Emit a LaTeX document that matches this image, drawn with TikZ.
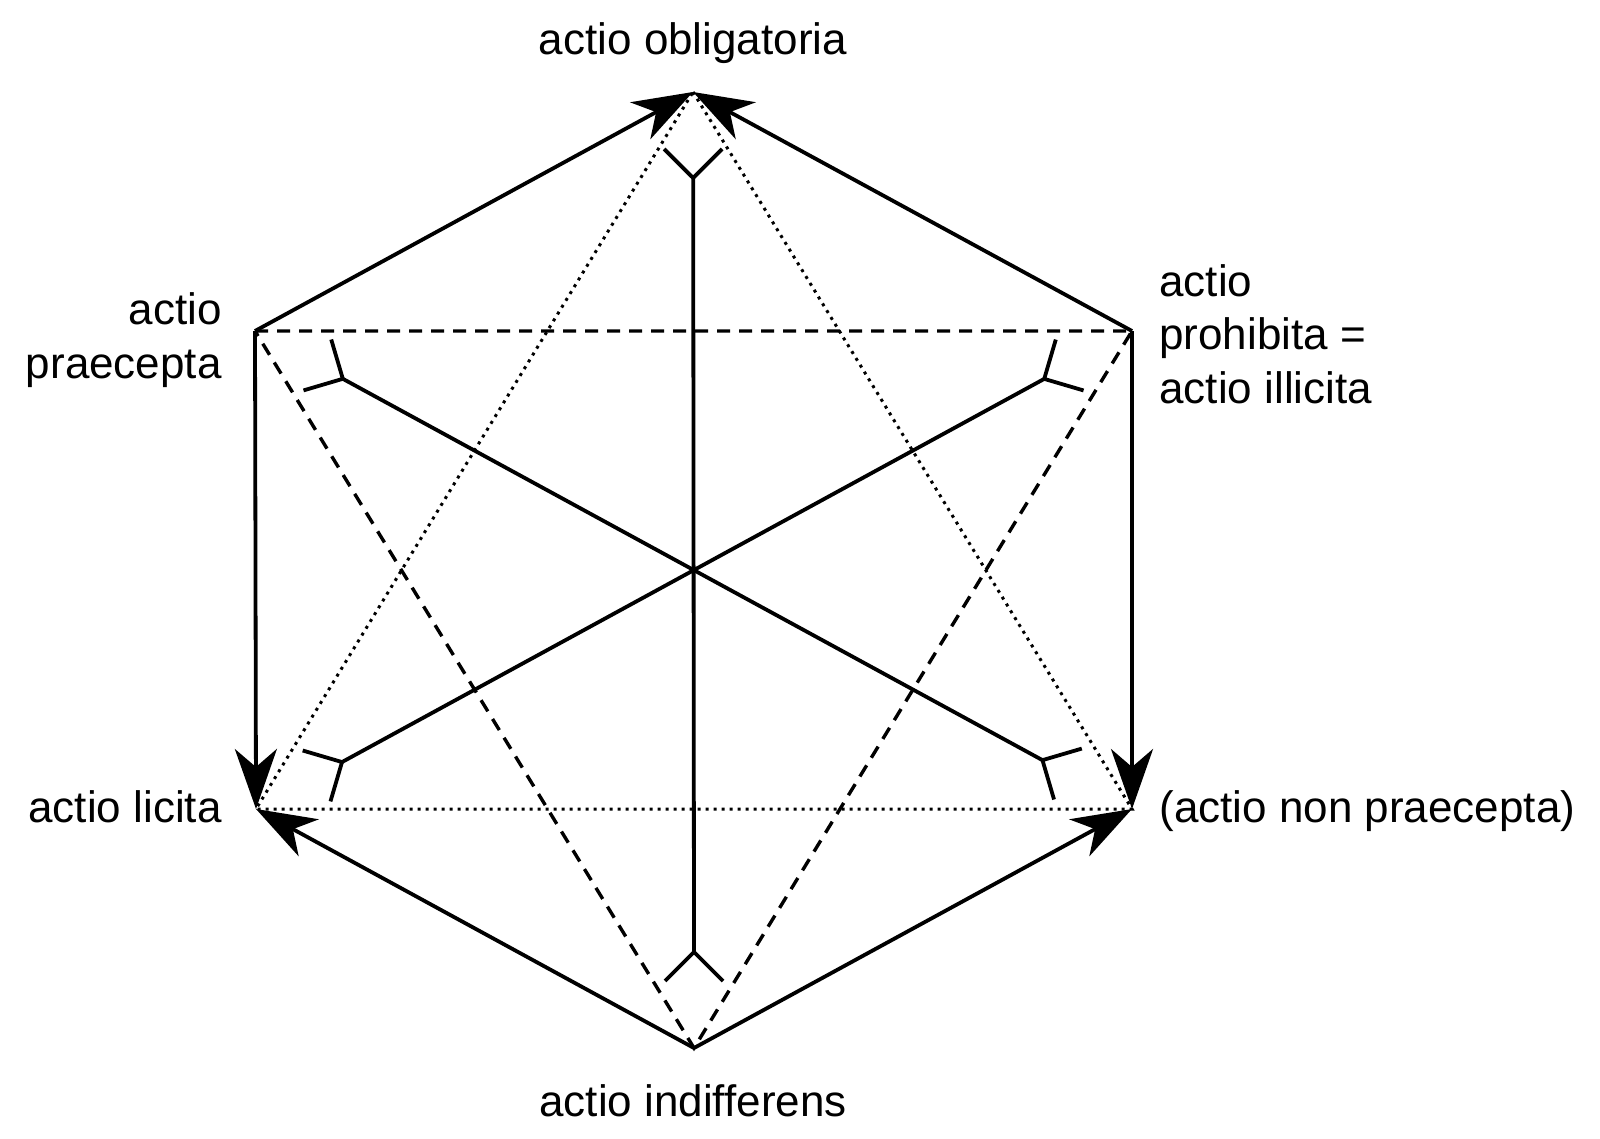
\documentclass[tikz,border=0pt]{standalone}
\usepackage{fontspec}
\setmainfont{Liberation Sans}
\usetikzlibrary{arrows.meta,calc}
\begin{document}
\begin{tikzpicture}[x=0.5pt,y=-0.5pt,
 edge/.style={line width=1.9pt, -{Stealth[length=30pt,width=21pt,inset=9pt]}},
 dsh/.style={line width=1.7pt, dash pattern=on 6.5pt off 4.5pt},
 dtt/.style={line width=1.5pt, dash pattern=on 1.5pt off 2.5pt},
 contra/.style={line width=1.9pt},
 lbl/.style={font=\fontsize{22}{26.75}\selectfont, inner sep=0pt}]
\useasboundingbox (0,0) rectangle (1600,1139);
% vertices
\coordinate (T) at (693,92);
\coordinate (UL) at (255,331);
\coordinate (UR) at (1132,331);
\coordinate (LL) at (256,809);
\coordinate (LR) at (1132,809);
\coordinate (B) at (694,1048);
\coordinate (C) at (694,570);
% labels
\node[lbl, anchor=base] (lo) at (693,55) {actio obligatoria};
\node[lbl, anchor=base east, align=right] (lp) at (222,378) {actio\\praecepta};
\node[lbl, anchor=base west, align=left] (lh) at (1159,403) {actio\\prohibita =\\actio illicita};
\node[lbl, anchor=base east] (ll) at (222,822) {actio licita};
\node[lbl, anchor=base west] (ln) at (1159,822) {(actio non praecepta)};
\node[lbl, anchor=base] (li) at (693,1116) {actio indifferens};
% fork points
\coordinate (fT) at ($(T)!43pt!(C)$);
\coordinate (fB) at ($(B)!48pt!(C)$);
\coordinate (fUL) at ($(UL)!50pt!(C)$);
\coordinate (fUR) at ($(UR)!50pt!(C)$);
\coordinate (fLL) at ($(LL)!49pt!(C)$);
\coordinate (fLR) at ($(LR)!51pt!(C)$);
% dashed triangle
\draw[dsh] (UL) -- (UR) -- (B) -- cycle;
% dotted triangle
\draw[dtt] (T) -- (LR) -- (LL) -- cycle;
% contradiction lines
\draw[contra] (fT) -- (fB);
\draw[contra] (fUL) -- (fLR);
\draw[contra] (fUR) -- (fLL);
\foreach \f/\v in {fT/T, fB/B, fUL/UL, fUR/UR, fLL/LL, fLR/LR}{
  \draw[contra] ($(\f)!20.5pt!45:(\v)$) -- (\f) -- ($(\f)!20.5pt!-45:(\v)$);
}
% hexagon edges with arrows
\draw[edge] (UL) -- (T);
\draw[edge] (UR) -- (T);
\draw[edge] (UL) -- (LL);
\draw[edge] (UR) -- (LR);
\draw[edge] (B) -- (LL);
\draw[edge] (B) -- (LR);
\end{tikzpicture}
\end{document}
